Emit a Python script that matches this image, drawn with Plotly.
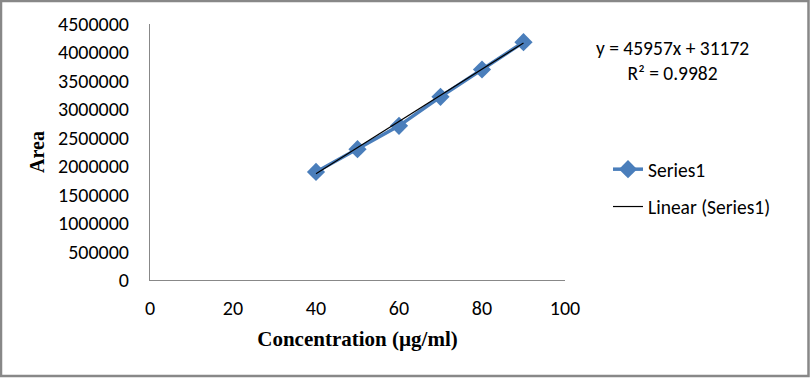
import numpy as np
import plotly.graph_objects as go

# ---- data ----
concentration = [40, 50, 60, 70, 80, 90]
area = [1900000, 2300000, 2710000, 3220000, 3700000, 4180000]
fit_slope = 45957
fit_intercept = 31172
r_squared = 0.9982
x_ticks = [0, 20, 40, 60, 80, 100]
y_ticks = [0, 500000, 1000000, 1500000, 2000000, 2500000, 3000000, 3500000, 4000000, 4500000]

# ---- layout geometry (pixels) ----
W, H = 810, 378
L, R, T, B = 150, 245, 24, 98
pw, ph = W - L - R, H - T - B

def px2paper_x(px):
    return (px - L) / pw

def px2paper_y(py):
    return (H - B - py) / ph

trend_x = [concentration[0], concentration[-1]]
trend_y = [fit_slope * v + fit_intercept for v in trend_x]

blue = "#4A7EBB"
sans = "Calibri, Carlito, 'Liberation Sans', Arial, sans-serif"
serif = "'Times New Roman', 'Liberation Serif', serif"

fig = go.Figure()
fig.add_trace(go.Scatter(
    x=concentration, y=area, mode="lines+markers", name="Series1",
    line=dict(color=blue, width=3.5),
    marker=dict(symbol="diamond", size=14, color=blue),
    legendgroup="a",
))
fig.add_trace(go.Scatter(
    x=trend_x, y=trend_y, mode="lines", name="Linear (Series1)",
    line=dict(color="black", width=1.2),
    legendgroup="b",
))

fig.update_layout(
    width=W, height=H,
    margin=dict(l=L, r=R, t=T, b=B),
    paper_bgcolor="white", plot_bgcolor="white",
    font=dict(family=sans, size=19, color="black"),
    showlegend=True,
    legend=dict(
        x=px2paper_x(608), y=px2paper_y(150), xanchor="left", yanchor="top",
        font=dict(family=sans, size=19.5, color="black"),
        traceorder="grouped", tracegroupgap=9,
        bgcolor="rgba(0,0,0,0)",
    ),
    xaxis=dict(
        range=[0, 100], tickvals=x_ticks, showgrid=False, zeroline=False,
        showline=True, linecolor="#888888", linewidth=1, ticks="",
        tickfont=dict(family=sans, size=20), ticklabelstandoff=10,
        title=dict(text="<b>Concentration (µg/ml)</b>",
                   font=dict(family=serif, size=21), standoff=12),
    ),
    yaxis=dict(
        range=[0, 4500000], tickvals=y_ticks, showgrid=False, zeroline=False,
        showline=True, linecolor="#888888", linewidth=1, ticks="",
        tickfont=dict(family=sans, size=20), tickformat="d", ticklabelstandoff=16,
        title=dict(text="<b>Area</b>", font=dict(family=serif, size=20), standoff=8),
    ),
)

fig.add_annotation(
    xref="paper", yref="paper", x=px2paper_x(672), y=px2paper_y(60),
    xanchor="center", yanchor="middle", showarrow=False, align="center",
    text=f"y = {fit_slope}x + {fit_intercept}<br>R² = {r_squared}",
    font=dict(family=sans, size=19.5, color="black"),
)

fig.add_shape(
    type="rect", xref="paper", yref="paper", layer="above",
    x0=px2paper_x(1), x1=px2paper_x(808.5), y0=px2paper_y(1), y1=px2paper_y(376),
    line=dict(color="#888888", width=2.5), fillcolor="rgba(0,0,0,0)",
)

fig.write_html("out.html", config={"displayModeBar": False},
               post_script="document.body.style.margin='0';")
